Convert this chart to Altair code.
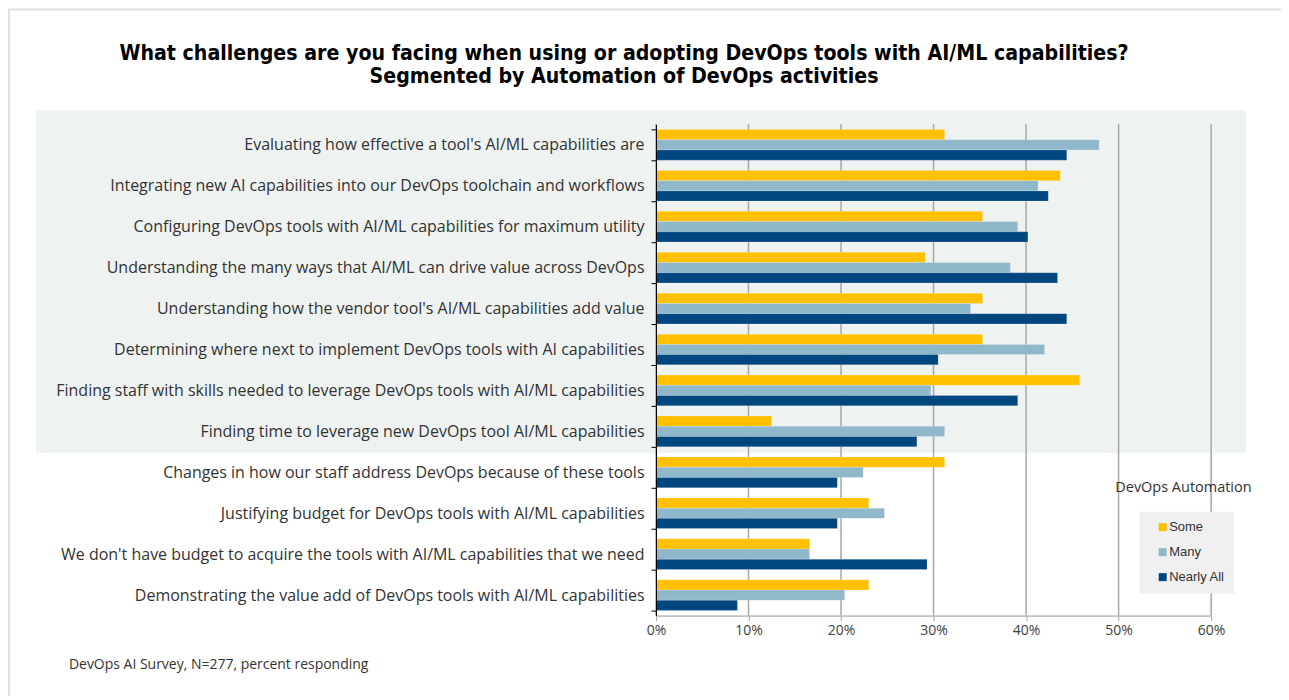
import altair as alt
import pandas as pd

categories = [
    "Evaluating how effective a tool's AI/ML capabilities are",
    "Integrating new AI capabilities into our DevOps toolchain and workflows",
    "Configuring DevOps tools with AI/ML capabilities for maximum utility",
    "Understanding the many ways that AI/ML can drive value across DevOps",
    "Understanding how the vendor tool's AI/ML capabilities add value",
    "Determining where next to implement DevOps tools with AI capabilities",
    "Finding staff with skills needed to leverage DevOps tools with AI/ML capabilities",
    "Finding time to leverage new DevOps tool AI/ML capabilities",
    "Changes in how our staff address DevOps because of these tools",
    "Justifying budget for DevOps tools with AI/ML capabilities",
    "We don't have budget to acquire the tools with AI/ML capabilities that we need",
    "Demonstrating the value add of DevOps tools with AI/ML capabilities",
]
series = ["Some", "Many", "Nearly All"]
some = [31.2, 43.7, 35.3, 29.1, 35.3, 35.3, 45.8, 12.5, 31.2, 23.0, 16.6, 23.0]
many = [47.9, 41.3, 39.1, 38.3, 34.0, 42.0, 29.7, 31.2, 22.4, 24.7, 16.6, 20.4]
nearly_all = [44.4, 42.4, 40.2, 43.4, 44.4, 30.5, 39.1, 28.2, 19.6, 19.6, 29.3, 8.8]
x_ticks = [0, 10, 20, 30, 40, 50, 60]
colors = ["#FFC000", "#8FB8CA", "#00467F"]

title_lines = [
    "What challenges are you facing when using or adopting DevOps tools with AI/ML capabilities?",
    "Segmented by Automation of DevOps activities",
]
legend_title = "DevOps Automation"
footnote = "DevOps AI Survey, N=277, percent responding"

rows = []
for name, vals in zip(series, [some, many, nearly_all]):
    for c, v in zip(categories, vals):
        rows.append({"category": c, "segment": name, "value": v})
df = pd.DataFrame(rows)
ticks_df = pd.DataFrame({"t": x_ticks})
one = pd.DataFrame({"a": [0]})

FONT = "Liberation Sans"
TFONT = "Open Sans"
W, H = 556, 492

xscale = alt.Scale(domain=[0, 60], nice=False)

border = alt.Chart(one).mark_rect(filled=False, stroke="#dde0e6", strokeWidth=2).encode(
    x=alt.value(-648), x2=alt.value(700), y=alt.value(-115), y2=alt.value(620)
)
shade = alt.Chart(one).mark_rect(fill="#eef2f1").encode(
    x=alt.value(-621), x2=alt.value(591), y=alt.value(-14), y2=alt.value(329)
)
grid = alt.Chart(ticks_df).mark_rule(color="#a6a6a6", strokeWidth=1.5).encode(
    x=alt.X("t:Q", scale=xscale), y=alt.value(0), y2=alt.value(H)
)

bars = alt.Chart(df).mark_bar(stroke="white", strokeWidth=0.5, strokeOpacity=0.4).encode(
    y=alt.Y(
        "category:N",
        sort=categories,
        scale=alt.Scale(paddingInner=0.25, paddingOuter=0.125),
        axis=alt.Axis(
            title=None,
            labelFontSize=16,
            labelFont=TFONT,
            labelColor="#333333",
            labelLimit=700,
            labelPadding=7,
            tickSize=5,
            tickColor="black",
            domainColor="black",
            tickBand="extent",
            zindex=1,
        ),
    ),
    yOffset=alt.YOffset("segment:N", sort=series, scale=alt.Scale(paddingInner=0)),
    x=alt.X(
        "value:Q",
        scale=xscale,
        axis=alt.Axis(
            title=None,
            values=x_ticks,
            labelExpr="datum.value + '%'",
            labelFontSize=14,
            labelFont=TFONT,
            labelColor="#404040",
            labelFlush=False,
            grid=False,
            domainColor="#a6a6a6",
            tickColor="#a6a6a6",
            tickSize=5,
            labelPadding=3,
            zindex=1,
        ),
    ),
    color=alt.Color(
        "segment:N",
        sort=series,
        scale=alt.Scale(domain=series, range=colors),
        legend=alt.Legend(
            title=None,
            orient="none",
            legendX=484,
            legendY=388,
            fillColor="#f0f0f0",
            padding=9,
            symbolOffset=8,
            symbolType="square",
            symbolSize=64,
            symbolStrokeWidth=0,
            labelFontSize=13,
            labelFont=FONT,
            labelColor="#333333",
            rowPadding=11,
            labelOffset=0,
        ),
    ),
)

title = alt.Chart(one).mark_text(
    text=title_lines,
    align="center",
    baseline="top",
    fontSize=21.2,
    fontWeight="bold",
    lineHeight=23,
    font="DejaVu Sans Condensed",
    color="black",
).encode(x=alt.value(-32), y=alt.value(-81))

leg_title = alt.Chart(one).mark_text(
    text=legend_title, align="left", baseline="middle", fontSize=14.5, font=TFONT, color="#333333"
).encode(x=alt.value(460), y=alt.value(364))

foot = alt.Chart(one).mark_text(
    text=footnote, align="left", baseline="middle", fontSize=14, font=TFONT, color="#333333"
).encode(x=alt.value(-588), y=alt.value(541))

chart = (
    alt.layer(border, shade, grid, bars, title, leg_title, foot)
    .properties(
        width=W,
        height=H,
        autosize=alt.AutoSizeParams(type="none"),
        padding={"left": 649, "top": 116, "right": 70, "bottom": 80},
    )
    .configure_view(stroke=None)
    .configure(background="white")
)

chart.save("out.html", embed_options={"renderer": "svg", "actions": False})
